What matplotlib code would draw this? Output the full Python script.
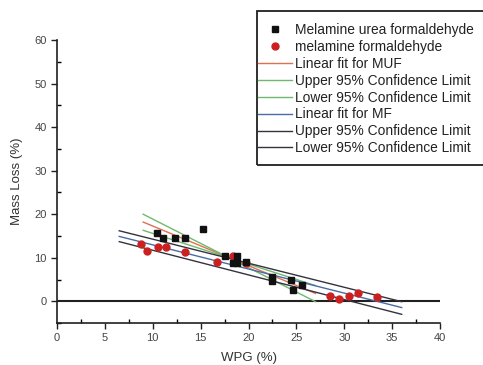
import matplotlib
matplotlib.use("Agg")
import matplotlib.pyplot as plt
import numpy as np
from matplotlib.ticker import MultipleLocator
from matplotlib.patches import Rectangle

plt.rcParams['font.family'] = ['Liberation Sans', 'DejaVu Sans']

# ================================
# Datos
# ================================

muf_wpg = [10.4, 11.1, 12.3, 13.4, 15.3, 17.5, 18.8, 18.4, 18.85, 19.75, 22.5, 22.5, 24.4, 24.6, 25.6]
muf_loss = [15.7, 14.5, 14.6, 14.6, 16.6, 10.5, 10.5, 8.9, 8.7, 9.0, 5.6, 4.6, 4.8, 2.5, 3.7]

mf_wpg = [8.8, 9.4, 10.5, 11.4, 13.4, 16.7, 18.4, 19.75, 28.5, 29.5, 30.5, 31.4, 33.4]
mf_loss = [13.2, 11.5, 12.5, 12.5, 11.4, 9.1, 10.4, 8.9, 1.1, 0.5, 1.1, 1.9, 0.9]

# Rectas (extremos en x, valores en y)
muf_x = [9.0, 27.0]
muf_fit = [18.2, 1.8]
muf_upper = [20.0, -0.1]
muf_lower = [16.3, 3.6]

mf_x = [6.5, 36.0]
mf_fit = [14.9, -1.45]
mf_upper = [16.2, -0.1]
mf_lower = [13.7, -3.0]

# ================================
# Grafico
# ================================

W, H = 483, 365
fig = plt.figure(figsize=(W / 100, H / 100), dpi=100)
ax = fig.add_axes([0.118, 0.115, 0.793, 0.775])

ax.axhline(0, color="#202020", lw=1.5, zorder=1)

h1, = ax.plot(muf_wpg, muf_loss, "s", color="#111111", ms=4.8, ls="none",
              label="Melamine urea formaldehyde", zorder=4)
h2, = ax.plot(mf_wpg, mf_loss, "o", color="#cc2020", ms=5, ls="none",
              label="melamine formaldehyde", zorder=3)

h3, = ax.plot(muf_x, muf_fit, color="#e07050", lw=1, label="Linear fit for MUF")
h4, = ax.plot(muf_x, muf_upper, color="#70b870", lw=1, label="Upper 95% Confidence Limit")
h5, = ax.plot(muf_x, muf_lower, color="#70b870", lw=1, label="Lower 95% Confidence Limit")
h6, = ax.plot(mf_x, mf_fit, color="#4a6aa8", lw=1, label="Linear fit for MF")
h7, = ax.plot(mf_x, mf_upper, color="#333340", lw=1, label="Upper 95% Confidence Limit")
h8, = ax.plot(mf_x, mf_lower, color="#333340", lw=1, label="Lower 95% Confidence Limit")

ax.set_xlim(0, 40)
ax.set_ylim(-5, 60)
ax.xaxis.set_major_locator(MultipleLocator(5))
ax.xaxis.set_minor_locator(MultipleLocator(2.5))
ax.yaxis.set_major_locator(MultipleLocator(10))
ax.yaxis.set_minor_locator(MultipleLocator(5))
ax.set_yticks(np.arange(0, 61, 10))

for s in ["top", "right"]:
    ax.spines[s].set_visible(False)
for s in ["left", "bottom"]:
    ax.spines[s].set_linewidth(1.2)
    ax.spines[s].set_color("#202020")

ax.tick_params(which="major", direction="out", length=4, width=1,
               labelsize=8, colors="#202020")
ax.tick_params(which="minor", direction="in", length=3, width=1)
ax.tick_params(axis="both", which="both", labelcolor="#444444")

ax.set_xlabel("WPG (%)", fontsize=9.5, color="#333333", labelpad=6)
ax.set_ylabel("Mass Loss (%)", fontsize=9.5, color="#333333", labelpad=8)

# caja de la leyenda: sale por el borde derecho como en el original
fig.patches.append(Rectangle((257 / W, 1 - 165 / H), 280 / W, 154 / H,
                             transform=fig.transFigure, fill=False,
                             edgecolor="#202020", lw=1.3, clip_on=False))

leg = fig.legend(handles=[h1, h2, h3, h4, h5, h6, h7, h8],
                 loc="upper left", bbox_to_anchor=(258 / W, 1 - 23 / H),
                 bbox_transform=fig.transFigure, fontsize=9.9,
                 frameon=False, borderaxespad=0, borderpad=0,
                 handlelength=2.5, handletextpad=0.2, labelspacing=0.21)
for t in leg.get_texts():
    t.set_color("#222222")

fig.savefig("out.png", dpi=100)
